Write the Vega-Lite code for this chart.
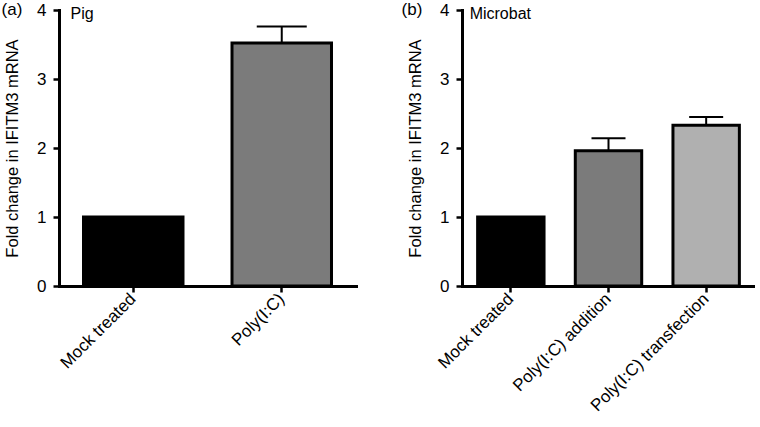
{
  "$schema": "https://vega.github.io/schema/vega-lite/v6.json",
  "background": "white",
  "padding": {"left": 1, "top": 1, "right": 0, "bottom": 0},
  "spacing": 45,
  "resolve": {"scale": {"color": "independent"}},
  "config": {
    "view": {"stroke": null},
    "font": "Liberation Sans",
    "axis": {
      "domainColor": "black", "domainWidth": 3, "domainCap": "square",
      "tickColor": "black", "tickWidth": 2.5, "tickSize": 6,
      "labelColor": "black", "labelFontSize": 17, "labelFont": "Liberation Sans",
      "titleColor": "black", "titleFontSize": 16.5, "titleFontWeight": "normal", "titleFont": "Liberation Sans",
      "grid": false
    },
    "title": {"fontSize": 17, "fontWeight": "normal", "font": "Liberation Sans", "anchor": "start", "frame": "bounds", "color": "black", "offset": -18}
  },
  "hconcat": [
    {
      "title": {"text": "(a)", "dx": -3},
      "width": 297,
      "height": 276,
      "data": {"values": [
        {"treatment": "Mock treated", "fold": 1.0, "upper": null},
        {"treatment": "Poly(I:C)", "fold": 3.52, "upper": 3.76}
      ]},
      "encoding": {
        "x": {"field": "treatment", "type": "nominal", "sort": null,
              "scale": {"domain": ["Mock treated", "Poly(I:C)"], "paddingInner": 0.33, "paddingOuter": 0.165},
              "axis": {"title": null, "labelAngle": -45, "labelAlign": "right", "labelBaseline": "middle", "labelPadding": 4}}
      },
      "layer": [
        {
          "transform": [{"filter": "datum.upper != null"}],
          "mark": {"type": "rule", "color": "black", "strokeWidth": 2},
          "encoding": {
            "y": {"field": "fold", "type": "quantitative"},
            "y2": {"field": "upper"}
          }
        },
        {
          "transform": [{"filter": "datum.upper != null"}],
          "mark": {"type": "tick", "color": "black", "orient": "horizontal", "size": 50, "thickness": 2, "opacity": 1},
          "encoding": {
            "y": {"field": "upper", "type": "quantitative"}
          }
        },
        {
          "mark": {"type": "bar", "stroke": "black", "strokeWidth": 3, "opacity": 1},
          "encoding": {
            "y": {"field": "fold", "type": "quantitative",
                  "scale": {"domain": [0, 4], "nice": false},
                  "axis": {"title": "Fold change in IFITM3 mRNA", "values": [0, 1, 2, 3, 4], "format": "d", "titlePadding": 16, "labelPadding": 7}},
            "color": {"field": "treatment", "type": "nominal", "sort": null,
                      "scale": {"domain": ["Mock treated", "Poly(I:C)"], "range": ["#000000", "#7b7b7b"]},
                      "legend": null}
          }
        },
        {
          "data": {"values": [{"label": "Pig", "treatment": "Mock treated", "fold": 4}]},
          "mark": {"type": "text", "align": "left", "baseline": "alphabetic", "dx": -13, "dy": 9, "fontSize": 16, "color": "black"},
          "encoding": {
            "x": {"field": "treatment", "type": "nominal", "bandPosition": 0},
            "y": {"field": "fold", "type": "quantitative"},
            "text": {"field": "label"}
          }
        }
      ]
    },
    {
      "title": {"text": "(b)", "dx": -6},
      "width": 293,
      "height": 276,
      "data": {"values": [
        {"treatment": "Mock treated", "fold": 1.0, "upper": null},
        {"treatment": "Poly(I:C) addition", "fold": 1.96, "upper": 2.14},
        {"treatment": "Poly(I:C) transfection", "fold": 2.33, "upper": 2.45}
      ]},
      "encoding": {
        "x": {"field": "treatment", "type": "nominal", "sort": null,
              "scale": {"domain": ["Mock treated", "Poly(I:C) addition", "Poly(I:C) transfection"], "paddingInner": 0.32, "paddingOuter": 0.16},
              "axis": {"title": null, "labelAngle": -45, "labelAlign": "right", "labelBaseline": "middle", "labelPadding": 4}}
      },
      "layer": [
        {
          "transform": [{"filter": "datum.upper != null"}],
          "mark": {"type": "rule", "color": "black", "strokeWidth": 2},
          "encoding": {
            "y": {"field": "fold", "type": "quantitative"},
            "y2": {"field": "upper"}
          }
        },
        {
          "transform": [{"filter": "datum.upper != null"}],
          "mark": {"type": "tick", "color": "black", "orient": "horizontal", "size": 34, "thickness": 2, "opacity": 1},
          "encoding": {
            "y": {"field": "upper", "type": "quantitative"}
          }
        },
        {
          "mark": {"type": "bar", "stroke": "black", "strokeWidth": 3, "opacity": 1},
          "encoding": {
            "y": {"field": "fold", "type": "quantitative",
                  "scale": {"domain": [0, 4], "nice": false},
                  "axis": {"title": "Fold change in IFITM3 mRNA", "values": [0, 1, 2, 3, 4], "format": "d", "titlePadding": 16, "labelPadding": 7}},
            "color": {"field": "treatment", "type": "nominal", "sort": null,
                      "scale": {"domain": ["Mock treated", "Poly(I:C) addition", "Poly(I:C) transfection"], "range": ["#000000", "#7b7b7b", "#b0b0b0"]},
                      "legend": null}
          }
        },
        {
          "data": {"values": [{"label": "Microbat", "treatment": "Mock treated", "fold": 4}]},
          "mark": {"type": "text", "align": "left", "baseline": "alphabetic", "dx": -8, "dy": 9, "fontSize": 16, "color": "black"},
          "encoding": {
            "x": {"field": "treatment", "type": "nominal", "bandPosition": 0},
            "y": {"field": "fold", "type": "quantitative"},
            "text": {"field": "label"}
          }
        }
      ]
    }
  ]
}
